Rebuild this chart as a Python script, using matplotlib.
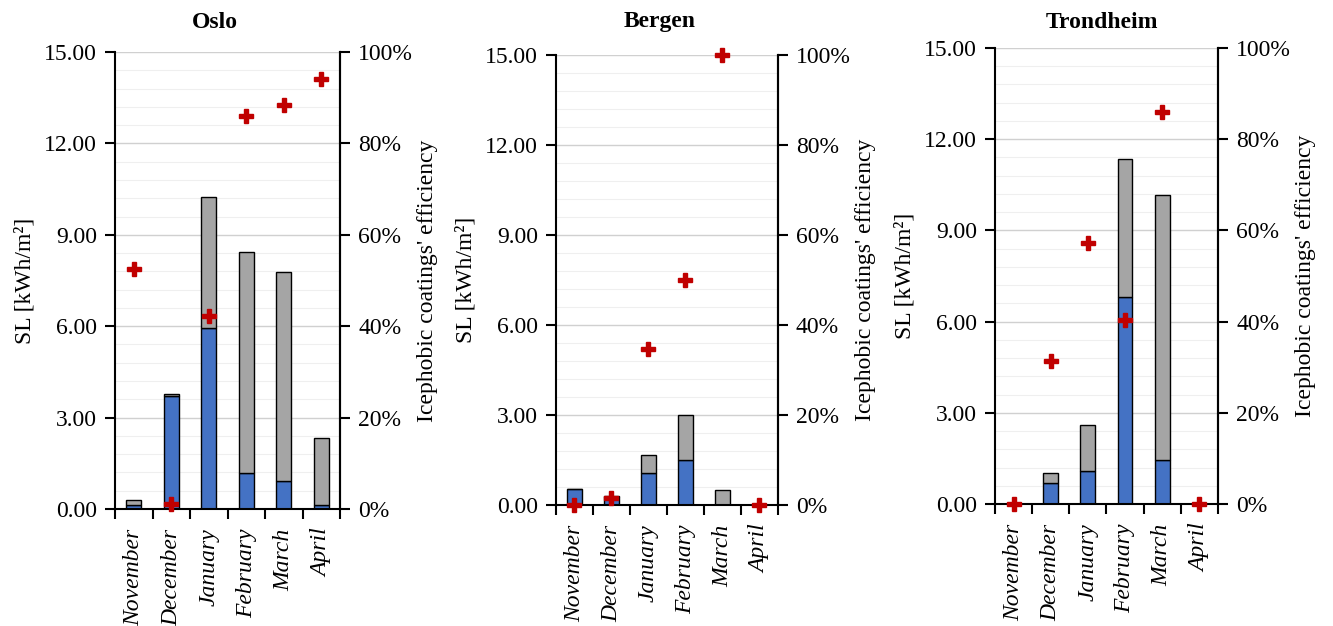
import matplotlib
matplotlib.use("Agg")
import matplotlib.pyplot as plt
import numpy as np
from matplotlib.ticker import MultipleLocator, FuncFormatter

plt.rcParams['font.family'] = ['Liberation Serif', 'DejaVu Serif']

months = ["November", "December", "January", "February", "March", "April"]
cities = ["Oslo", "Bergen", "Trondheim"]

# SL with icephobic coating (blue, bottom) and total SL (bar top)
oslo_blue = [0.12, 3.70, 5.95, 1.18, 0.92, 0.12]
oslo_total = [0.30, 3.77, 10.25, 8.42, 7.77, 2.32]
oslo_eff = [52.5, 1.2, 42.3, 86.0, 88.3, 94.2]

bergen_blue = [0.52, 0.25, 1.05, 1.50, 0.00, 0.00]
bergen_total = [0.52, 0.30, 1.65, 3.00, 0.50, 0.00]
bergen_eff = [0.0, 1.5, 34.7, 50.0, 100.0, 0.0]

trond_blue = [0.00, 0.68, 1.10, 6.80, 1.45, 0.00]
trond_total = [0.00, 1.02, 2.60, 11.35, 10.15, 0.00]
trond_eff = [0.0, 31.3, 57.3, 40.3, 86.0, 0.0]

blue_vals = [oslo_blue, bergen_blue, trond_blue]
total_vals = [oslo_total, bergen_total, trond_total]
eff_vals = [oslo_eff, bergen_eff, trond_eff]

positions = [
    [0.0863, 0.1869, 0.1688, 0.7300],
    [0.4171, 0.1933, 0.1665, 0.7188],
    [0.7464, 0.1949, 0.1673, 0.7284],
]
title_x = [215 / 1333, 660 / 1333, 1102 / 1333]

fig = plt.figure(figsize=(13.33, 6.26), dpi=100)

for i in range(3):
    ax = fig.add_axes(positions[i])
    x = np.arange(len(months))
    blue = np.array(blue_vals[i])
    total = np.array(total_vals[i])
    gray = total - blue
    ax.set_axisbelow(True)
    ax.bar(x, blue, width=0.4, color="#4472C4", edgecolor="black", linewidth=1.0, zorder=2)
    ax.bar(x, gray, bottom=blue, width=0.4, color="#A5A5A5", edgecolor="black", linewidth=1.0, zorder=2)
    ax.set_xlim(-0.5, 5.5)
    ax.set_ylim(0, 15)
    ax.yaxis.set_major_locator(MultipleLocator(3))
    ax.yaxis.set_minor_locator(MultipleLocator(0.6))
    ax.yaxis.set_major_formatter(FuncFormatter(lambda v, p: f"{v:.2f}"))
    ax.grid(axis="y", which="major", color="#D0D0D0", linewidth=1.0)
    ax.grid(axis="y", which="minor", color="#EFEFEF", linewidth=0.8)
    ax.tick_params(axis="y", which="minor", length=0)
    ax.tick_params(axis="y", which="major", direction="out", length=7, width=1.5, labelsize=17, pad=6)
    ax.set_xticks(x)
    ax.set_xticklabels(months, rotation=90, fontstyle="italic", fontsize=17)
    ax.tick_params(axis="x", which="major", length=0, pad=14)
    ax.set_xticks(np.arange(-0.5, 6.0, 1.0), minor=True)
    ax.tick_params(axis="x", which="minor", direction="out", length=7, width=1.5)
    ax.spines["top"].set_visible(False)
    ax.spines["left"].set_linewidth(1.5)
    ax.spines["bottom"].set_linewidth(1.5)
    ax.spines["right"].set_linewidth(1.5)
    ax.set_ylabel("SL [kWh/m²]", fontsize=17, labelpad=6)
    fig.text(title_x[i], 1 - 22 / 626, cities[i], fontsize=17, fontweight="bold",
             ha="center", va="center")

    ax2 = ax.twinx()
    ax2.set_ylim(0, 100)
    ax2.yaxis.set_major_locator(MultipleLocator(20))
    ax2.yaxis.set_major_formatter(FuncFormatter(lambda v, p: f"{v:.0f}%"))
    ax2.plot(x, eff_vals[i], linestyle="none", marker="P", markersize=10,
             color="#C00000", markeredgecolor="#C00000", zorder=5, clip_on=False)
    ax2.tick_params(axis="y", direction="out", length=7, width=1.5, labelsize=17, pad=6)
    ax2.spines["top"].set_visible(False)
    ax2.spines["right"].set_linewidth(1.5)
    ax2.spines["left"].set_visible(False)
    ax2.spines["bottom"].set_visible(False)
    ax2.set_ylabel("Icephobic coatings' efficiency", fontsize=17, labelpad=3)

fig.savefig("out.png", dpi=100)
